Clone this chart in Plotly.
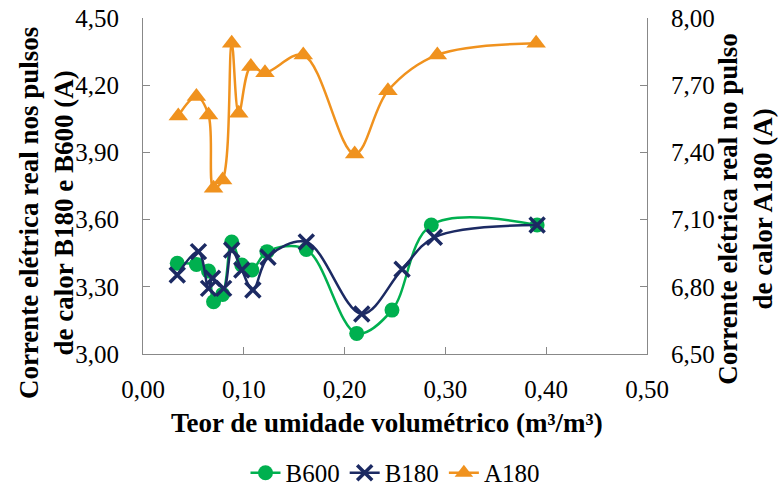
import plotly.graph_objects as go

# Data
b600_x = [0.034, 0.053, 0.065, 0.070, 0.079, 0.088, 0.098, 0.108, 0.123, 0.162, 0.212, 0.247, 0.286, 0.391]
b600_y = [3.405, 3.40, 3.37, 3.233, 3.266, 3.50, 3.397, 3.375, 3.457, 3.467, 3.092, 3.196, 3.576, 3.576]

b180_x = [0.034, 0.055, 0.065, 0.069, 0.080, 0.088, 0.098, 0.109, 0.124, 0.162, 0.217, 0.257, 0.289, 0.391]
b180_y = [3.353, 3.457, 3.293, 3.338, 3.293, 3.464, 3.375, 3.286, 3.432, 3.50, 3.179, 3.378, 3.521, 3.576]

a180_x = [0.035, 0.053, 0.065, 0.070, 0.079, 0.088, 0.095, 0.107, 0.121, 0.159, 0.210, 0.243, 0.292, 0.390]
a180_y = [7.563, 7.649, 7.567, 7.240, 7.277, 7.887, 7.575, 7.783, 7.756, 7.835, 7.393, 7.675, 7.835, 7.887]

GREEN = "#00B04F"
NAVY = "#1C2A63"
ORANGE = "#F0921E"
FONT = "Liberation Serif"
TICK_SIZE = 25
TITLE_SIZE = 27

fig = go.Figure()
fig.add_trace(go.Scatter(x=b600_x, y=b600_y, name="B600", mode="lines+markers",
                         line=dict(color=GREEN, width=2.5, shape="spline", smoothing=1.0),
                         marker=dict(symbol="circle", size=15, color=GREEN)))
fig.add_trace(go.Scatter(x=b180_x, y=b180_y, name="B180", mode="lines+markers",
                         line=dict(color=NAVY, width=2.5, shape="spline", smoothing=1.0),
                         marker=dict(symbol="x-thin", size=15, color=NAVY,
                                     line=dict(color=NAVY, width=3.5))))
fig.add_trace(go.Scatter(x=a180_x, y=a180_y, name="A180", mode="lines+markers", yaxis="y2",
                         line=dict(color=ORANGE, width=2.5, shape="spline", smoothing=1.0),
                         marker=dict(symbol="triangle-up", size=17, color=ORANGE)))

axis_common = dict(showline=True, linecolor="#888888", linewidth=1.2, ticks="inside",
                   ticklen=7, tickcolor="#888888", showgrid=False, zeroline=False,
                   tickfont=dict(family=FONT, size=TICK_SIZE, color="black"), tickformat=".2f")

fig.update_layout(
    width=782, height=488,
    margin=dict(l=143, r=135, t=18, b=134, autoexpand=False),
    paper_bgcolor="white", plot_bgcolor="white",
    separators=",.",
    font=dict(family=FONT, color="black"),
    xaxis=dict(range=[0, 0.5], dtick=0.1, tick0=0, ticklabelstandoff=13, **axis_common),
    yaxis=dict(range=[3.0, 4.5], dtick=0.3, tick0=3.0, ticklabelstandoff=18, **axis_common),
    yaxis2=dict(range=[6.5, 8.0], dtick=0.3, tick0=6.5, overlaying="y", side="right",
                ticklabelstandoff=18, **axis_common),
    showlegend=True,
    legend=dict(orientation="h", x=0.5, xanchor="center", y=-0.354, yanchor="middle",
                font=dict(family=FONT, size=TICK_SIZE), itemwidth=30, tracegroupgap=0),
    annotations=[
        dict(text="<b>Teor de umidade volumétrico (m³/m³)</b>",
             xref="paper", yref="paper", x=0.485, y=-0.205,
             xanchor="center", yanchor="middle", showarrow=False,
             font=dict(family=FONT, size=TITLE_SIZE)),
        dict(text="<b>Corrente elétrica real nos pulsos<br>de calor B180 e B600 (A)</b>",
             textangle=-90, xref="paper", yref="paper", x=-0.19, y=0.42,
             xanchor="center", yanchor="middle", showarrow=False,
             font=dict(family=FONT, size=TITLE_SIZE)),
        dict(text="<b>Corrente elétrica real no pulso<br>de calor A180 (A)</b>",
             textangle=-90, xref="paper", yref="paper", x=1.196, y=0.432,
             xanchor="center", yanchor="middle", showarrow=False,
             font=dict(family=FONT, size=TITLE_SIZE)),
    ],
)

fig.write_html("out.html")
